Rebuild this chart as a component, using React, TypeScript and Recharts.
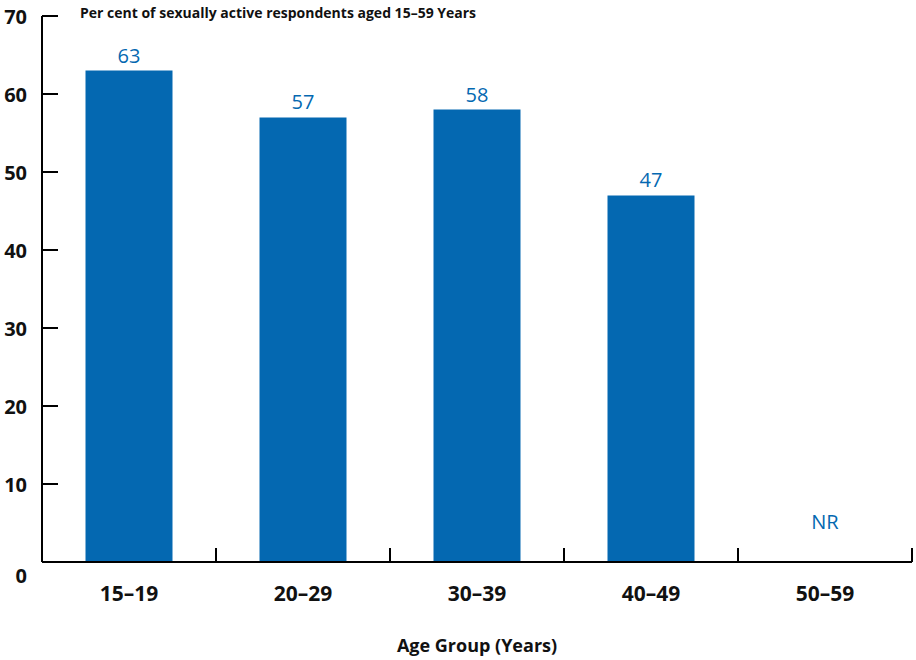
import { Bar, BarChart, LabelList, XAxis, YAxis } from 'recharts'

const categories = ['15–19', '20–29', '30–39', '40–49', '50–59']
const values: (number | null)[] = [63, 57, 58, 47, null]
const missingLabel = 'NR'
const yTicks = [0, 10, 20, 30, 40, 50, 60, 70]

const BLUE = '#0468b1'
const FONT = '"Open Sans", sans-serif'

const data = categories.map((c, i) => ({ group: c, value: values[i] }))

function YTick({ x, y, payload }: any) {
  const v = payload.value as number
  return (
    <g>
      <line x1={x} x2={x + 16} y1={y} y2={y} stroke="#000" strokeWidth={2} />
      <text
        x={x - 15}
        y={v === 0 ? y + 13 : y}
        textAnchor="end"
        dominantBaseline="central"
        fontFamily={FONT}
        fontWeight={700}
        fontSize={20}
        fill="#111"
      >
        {v}
      </text>
    </g>
  )
}

function XTick({ x, y, payload }: any) {
  const i = categories.indexOf(payload.value)
  return (
    <g>
      <line x1={x + 87} x2={x + 87} y1={y - 14} y2={y} stroke="#000" strokeWidth={2} />
      <text
        x={x}
        y={y + 31}
        textAnchor="middle"
        dominantBaseline="central"
        fontFamily={FONT}
        fontWeight={700}
        fontSize={21}
        fill="#111"
      >
        {payload.value}
      </text>
      {values[i] == null && (
        <text
          x={x}
          y={y - 41}
          textAnchor="middle"
          dominantBaseline="central"
          fontFamily={FONT}
          fontSize={20}
          fill={BLUE}
        >
          {missingLabel}
        </text>
      )}
    </g>
  )
}

function AxisTitle({ viewBox }: any) {
  const { x, y, width } = viewBox
  return (
    <text
      x={x + width / 2}
      y={y + 83}
      textAnchor="middle"
      dominantBaseline="central"
      fontFamily={FONT}
      fontWeight={700}
      fontSize={18}
      fill="#111"
    >
      Age Group (Years)
    </text>
  )
}

export default function App() {
  return (
    <div style={{ position: 'absolute', left: 0, top: 0, width: 916, height: 660, background: '#fff' }}>
      <div
        style={{
          position: 'absolute',
          left: 80,
          top: 3,
          fontFamily: FONT,
          fontWeight: 700,
          fontSize: 14,
          color: '#111',
          whiteSpace: 'nowrap',
          zIndex: 1,
        }}
      >
        Per cent of sexually active respondents aged 15–59 Years
      </div>
      <BarChart
        width={916}
        height={660}
        data={data}
        margin={{ top: 16, right: 4, bottom: 0, left: 0 }}
        barCategoryGap="25%"
      >
        <XAxis
          dataKey="group"
          height={98}
          tickSize={0}
          tickMargin={0}
          tickLine={false}
          axisLine={{ stroke: '#000', strokeWidth: 2 }}
          tick={<XTick />}
          interval={0}
          label={<AxisTitle />}
        />
        <YAxis
          width={42}
          domain={[0, 70]}
          ticks={yTicks}
          tickSize={0}
          tickMargin={0}
          tickLine={false}
          axisLine={{ stroke: '#000', strokeWidth: 2 }}
          tick={<YTick />}
          interval={0}
        />
        <Bar dataKey="value" fill={BLUE} isAnimationActive={false}>
          <LabelList
            dataKey="value"
            position="top"
            offset={8}
            fill={BLUE}
            fontFamily={FONT}
            fontSize={20}
          />
        </Bar>
      </BarChart>
    </div>
  )
}
